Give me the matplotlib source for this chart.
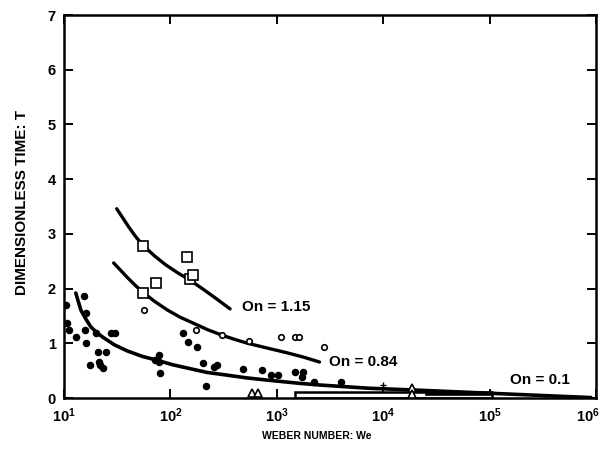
import numpy as np
import matplotlib.pyplot as plt
from matplotlib.patches import Rectangle
from matplotlib.ticker import NullLocator, FixedLocator, FixedFormatter
from matplotlib.transforms import ScaledTranslation

plt.rcParams['font.family'] = ['Liberation Sans', 'DejaVu Sans']
plt.rcParams['font.weight'] = 'bold'
plt.rcParams['mathtext.fontset'] = 'custom'
plt.rcParams['mathtext.rm'] = 'Liberation Sans:bold'
plt.rcParams['mathtext.bf'] = 'Liberation Sans:bold'

# 拟合曲线 (读图得到的点)
curve_115_we = [31.3, 35.5, 40.5, 46.8, 54.7, 70.8, 89.7, 117, 154, 200, 269, 364]
curve_115_t = [3.46, 3.30, 3.13, 2.96, 2.80, 2.60, 2.44, 2.29, 2.15, 2.00, 1.82, 1.63]

curve_084_we = [29.3, 33.9, 39.6, 46.8, 54.7, 70.8, 93.7, 123, 164, 224, 306, 407, 536,
                794, 1240, 1778, 2520]
curve_084_t = [2.47, 2.34, 2.20, 2.06, 1.94, 1.77, 1.61, 1.48, 1.37, 1.25, 1.15, 1.07, 1.00,
               0.92, 0.83, 0.75, 0.66]

curve_01_we = [12.9, 14.4, 16.0, 17.9, 20.5, 23.7, 30.0, 39.6, 55, 75.7, 105, 144, 220, 341,
               520, 807, 1640, 2520, 7400, 18700, 98000, 9.0e5]
curve_01_t = [1.92, 1.61, 1.45, 1.30, 1.19, 1.10, 0.97, 0.86, 0.76, 0.69, 0.61, 0.55, 0.47, 0.42,
              0.37, 0.33, 0.27, 0.24, 0.18, 0.15, 0.09, 0.01]

# 实心点
dots_we = [10.4, 10.7, 11.1, 12.9, 15.4, 16.1, 15.7, 16.1, 19.9, 27.5, 30.0, 20.8, 24.7,
           17.5, 21.2, 22.0, 23.1, 79, 79, 72, 80, 132, 145, 178, 203, 217, 258, 275,
           480, 725, 880, 1020, 1470, 1750, 1740, 2250, 4050]
dots_t = [1.70, 1.37, 1.24, 1.12, 1.86, 1.55, 1.24, 1.01, 1.19, 1.19, 1.19, 0.84, 0.84,
          0.60, 0.66, 0.60, 0.55, 0.79, 0.66, 0.69, 0.46, 1.19, 1.02, 0.93, 0.64, 0.22, 0.57, 0.60,
          0.53, 0.51, 0.42, 0.42, 0.48, 0.48, 0.38, 0.29, 0.29]

# 空心圆
circ_we = [57, 175, 306, 547, 1090, 1470, 1610, 2810]
circ_t = [1.61, 1.24, 1.15, 1.04, 1.12, 1.12, 1.12, 0.93]

# 空心方块
sq_we = [55, 144, 154, 164, 74, 55]
sq_t = [2.78, 2.58, 2.18, 2.25, 2.10, 1.92]

# 三角
tri_we = [590, 660, 18700, 18700]
tri_t = [0.09, 0.09, 0.19, 0.08]

plus_we = [10000]
plus_t = [0.24]

x_ticks = [1e1, 1e2, 1e3, 1e4, 1e5, 1e6]
x_tick_labels = [r'$\mathbf{10^{1}}$', r'$\mathbf{10^{2}}$', r'$\mathbf{10^{3}}$',
                 r'$\mathbf{10^{4}}$', r'$\mathbf{10^{5}}$', r'$\mathbf{10^{6}}$']
y_ticks = [0, 1, 2, 3, 4, 5, 6, 7]

fig = plt.figure(figsize=(6.01, 4.55), dpi=100)
ax = fig.add_axes([0.1065, 0.125, 0.885, 0.842])
ax.set_xscale('log')
ax.set_xlim(10, 1e6)
ax.set_ylim(0, 7)

ax.plot(curve_115_we, curve_115_t, color='black', lw=2.4, solid_capstyle='round')
ax.plot(curve_084_we, curve_084_t, color='black', lw=2.4, solid_capstyle='round')
ax.plot(curve_01_we, curve_01_t, color='black', lw=2.6, solid_capstyle='round')

# 底部矩形区域
ax.add_patch(Rectangle((1500, 0.01), 1.05e5 - 1500, 0.10, facecolor='white',
                       edgecolor='black', lw=1.8, zorder=2))
ax.add_patch(Rectangle((2.5e4, 0.05), 1.05e5 - 2.5e4, 0.06, facecolor='black',
                       edgecolor='black', lw=0.5, zorder=2))

ax.plot(dots_we, dots_t, 'o', color='black', ms=4.4, zorder=3)
ax.plot(circ_we, circ_t, 'o', mfc='white', mec='black', ms=4, mew=1.2, zorder=3)
ax.plot(sq_we, sq_t, 's', mfc='white', mec='black', ms=6.5, mew=1.2, zorder=3)
ax.plot(tri_we, tri_t, '^', mfc='white', mec='black', ms=5.5, mew=1.2, zorder=3)
ax.plot(plus_we, plus_t, '+', color='black', ms=5, mew=1.0, zorder=3)

ax.text(471, 1.66, 'On = 1.15', fontsize=11, fontweight='bold', va='center', ha='left')
ax.text(3130, 0.66, 'On = 0.84', fontsize=11, fontweight='bold', va='center', ha='left')
ax.text(157000, 0.33, 'On = 0.1', fontsize=11, fontweight='bold', va='center', ha='left')

ax.xaxis.set_major_locator(FixedLocator(x_ticks))
ax.xaxis.set_major_formatter(FixedFormatter(x_tick_labels))
ax.xaxis.set_minor_locator(NullLocator())
ax.set_yticks(y_ticks)
ax.tick_params(direction='in', length=6.5, width=1.4, top=True, right=True,
               labelsize=10.5, pad=6)
for lab in ax.get_yticklabels():
    lab.set_fontweight('bold')

# 最右边的刻度标签稍微左移，避免被裁掉
last = ax.get_xticklabels()[-1]
last.set_transform(last.get_transform() + ScaledTranslation(-6 / 72, 0, fig.dpi_scale_trans))

for sp in ax.spines.values():
    sp.set_linewidth(1.8)

ax.set_xlabel('WEBER NUMBER: We', fontsize=7.5, fontweight='bold')
ax.xaxis.set_label_coords(0.476, -0.085)
ax.set_ylabel('DIMENSIONLESS TIME: T', fontsize=11, fontweight='bold')
ax.yaxis.set_label_coords(-0.066, 0.51)

fig.savefig('out.png', dpi=100)
